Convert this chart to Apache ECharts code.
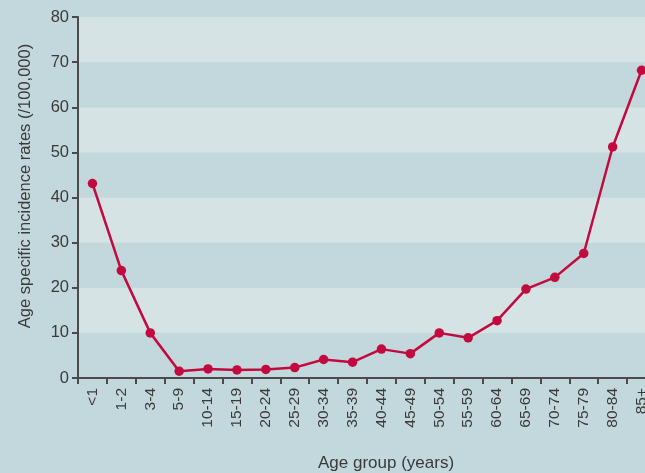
<!DOCTYPE html>
<html><head><meta charset="utf-8">
<script src="https://cdn.jsdelivr.net/npm/echarts@6/dist/echarts.min.js"></script>
<style>html,body{margin:0;padding:0;background:#c3d8dc;overflow:hidden;width:645px;height:473px}#c{width:656px;height:473px}</style>
</head><body><div id="c"></div>
<script>
const categories = ['<1','1-2','3-4','5-9','10-14','15-19','20-24','25-29','30-34','35-39','40-44','45-49','50-54','55-59','60-64','65-69','70-74','75-79','80-84','85+'];
const rates = [43.1,23.8,10.0,1.5,2.0,1.8,1.9,2.3,4.1,3.5,6.4,5.4,10.0,8.9,12.7,19.7,22.3,27.6,51.2,68.2];
const yTicks = [0,10,20,30,40,50,60,70,80];
const xTitle = 'Age group (years)';
const yTitle = 'Age specific incidence rates (/100,000)';

const chart = echarts.init(document.getElementById('c'));
const font = 'Liberation Sans, Arial, sans-serif';
chart.setOption({
  backgroundColor: '#c3d8dc',
  animation: false,
  grid: {left: 78, top: 17, right: 0, height: 361, containLabel: false},
  graphic: [
    {type: 'text', left: 318, top: 455, style: {text: xTitle, font: '17px ' + font, fill: '#3a3a3a'}},
    {type: 'text', x: 17, y: 186, rotation: Math.PI / 2,
     style: {text: yTitle, font: '16.5px ' + font, fill: '#3a3a3a', align: 'center', verticalAlign: 'top'}}
  ],
  xAxis: {
    type: 'category', data: categories, boundaryGap: true,
    axisLine: {lineStyle: {color: '#4a4a4a', width: 2}},
    axisTick: {show: true, length: 6, lineStyle: {color: '#4a4a4a', width: 2}},
    axisLabel: {rotate: 90, fontFamily: font, fontSize: 15.5, color: '#3a3a3a', margin: 10, interval: 0}
  },
  yAxis: {
    type: 'value', min: yTicks[0], max: yTicks[yTicks.length-1], interval: 10,
    axisLine: {show: true, lineStyle: {color: '#4a4a4a', width: 2}},
    axisTick: {show: true, length: 6, lineStyle: {color: '#4a4a4a', width: 2}},
    axisLabel: {fontFamily: font, fontSize: 16.5, color: '#3a3a3a', margin: 9},
    splitLine: {show: false},
    splitArea: {show: true, areaStyle: {color: ['#c3d8dc', '#d5e3e5']}}
  },
  series: [{
    type: 'line', data: rates,
    symbol: 'circle', symbolSize: 9.5,
    lineStyle: {color: '#c20a3e', width: 2.5},
    itemStyle: {color: '#c20a3e'}
  }]
});
</script></body></html>
